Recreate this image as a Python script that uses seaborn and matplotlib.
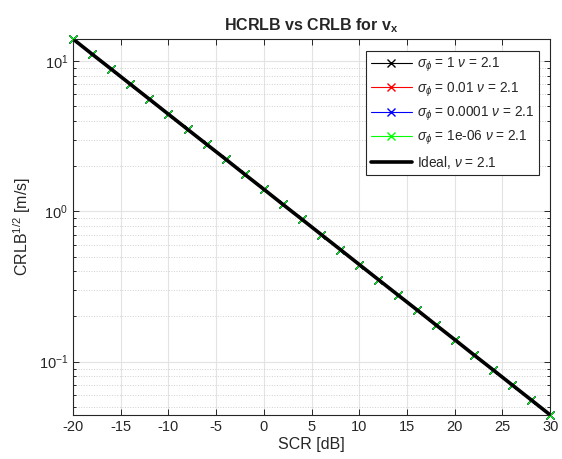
import numpy as np
import pandas as pd
import seaborn as sns
import matplotlib.pyplot as plt
from matplotlib.ticker import LogLocator, NullFormatter, MultipleLocator

# data
scr_db = [-20, -18, -16, -14, -12, -10, -8, -6, -4, -2, 0, 2, 4, 6, 8,
          10, 12, 14, 16, 18, 20, 22, 24, 26, 28, 30]
crlb_sqrt = [14.0, 11.1, 8.83, 7.01, 5.57, 4.42, 3.51, 2.79, 2.22, 1.76,
             1.40, 1.11, 0.883, 0.701, 0.557, 0.442, 0.351, 0.279, 0.222,
             0.176, 0.140, 0.111, 0.0883, 0.0701, 0.0557, 0.0442]
sigma_labels = ['1', '0.01', '0.0001', '1e-06']
sigma_colors = ['black', 'red', 'blue', '#00ff00']
nu = 2.1

sns.set_theme(style='ticks')
plt.rcParams['font.family'] = ['Liberation Sans', 'DejaVu Sans']
plt.rcParams['mathtext.fontset'] = 'custom'
plt.rcParams['mathtext.rm'] = 'Liberation Sans'
plt.rcParams['mathtext.it'] = 'Liberation Sans:italic'
plt.rcParams['mathtext.bf'] = 'Liberation Sans:bold'
plt.rcParams['axes.unicode_minus'] = False

df = pd.DataFrame({'scr': scr_db, 'crlb': crlb_sqrt})

fig = plt.figure(figsize=(5.62, 4.59), dpi=100)
ax = fig.add_axes([0.130, 0.096, 0.849, 0.819])

# HCRLB curves (all overlap)
for lab, col in zip(sigma_labels, sigma_colors):
    sns.lineplot(data=df, x='scr', y='crlb', ax=ax, color=col, lw=0.8,
                 marker='x', markersize=6, markeredgewidth=1.0,
                 markeredgecolor=col, clip_on=False,
                 label=r'$\sigma_{\phi}$ = ' + lab + r' $\nu$ = ' + str(nu))
# ideal CRLB
sns.lineplot(data=df, x='scr', y='crlb', ax=ax, color='black', lw=2.6,
             label=r'Ideal, $\nu$ = ' + str(nu))

ax.set_yscale('log')
ax.set_xlim(-20, 30)
ax.set_ylim(0.0442, 14.0)
ax.xaxis.set_major_locator(MultipleLocator(5))
ax.yaxis.set_major_locator(LogLocator(base=10, numticks=10))
ax.yaxis.set_minor_locator(LogLocator(base=10, subs=np.arange(2, 10), numticks=10))
ax.yaxis.set_minor_formatter(NullFormatter())

ax.grid(True, which='major', color='#e3e3e3', lw=0.8, ls='-')
ax.grid(True, which='minor', axis='y', color='#d0d0d0', lw=0.7, ls=':')
ax.set_axisbelow(True)

ax.tick_params(which='both', direction='in', top=True, right=True,
               labelsize=10.5, colors='#262626', labelcolor='#262626',
               width=0.7)
ax.tick_params(which='major', length=4)
ax.tick_params(which='minor', length=2.5)
for sp in ax.spines.values():
    sp.set_visible(True)
    sp.set_color('#262626')
    sp.set_linewidth(0.8)

ax.set_xlabel('SCR [dB]', fontsize=11.5, color='#262626', labelpad=2)
ax.set_ylabel(r'CRLB$^{1/2}$ [m/s]', fontsize=11.5, color='#262626', labelpad=4)
ax.set_title(r'HCRLB vs CRLB for v$_\mathbf{x}$', fontsize=11.5,
             fontweight='bold', pad=6)

leg = ax.legend(loc='upper right', bbox_to_anchor=(0.977, 0.968), fontsize=9.8,
                frameon=True, fancybox=False, edgecolor='#262626',
                framealpha=1, borderpad=0.35, labelspacing=0.45,
                handlelength=3.0, handletextpad=0.4, borderaxespad=0)
leg.get_frame().set_linewidth(0.8)

fig.savefig('out.png', dpi=100)
